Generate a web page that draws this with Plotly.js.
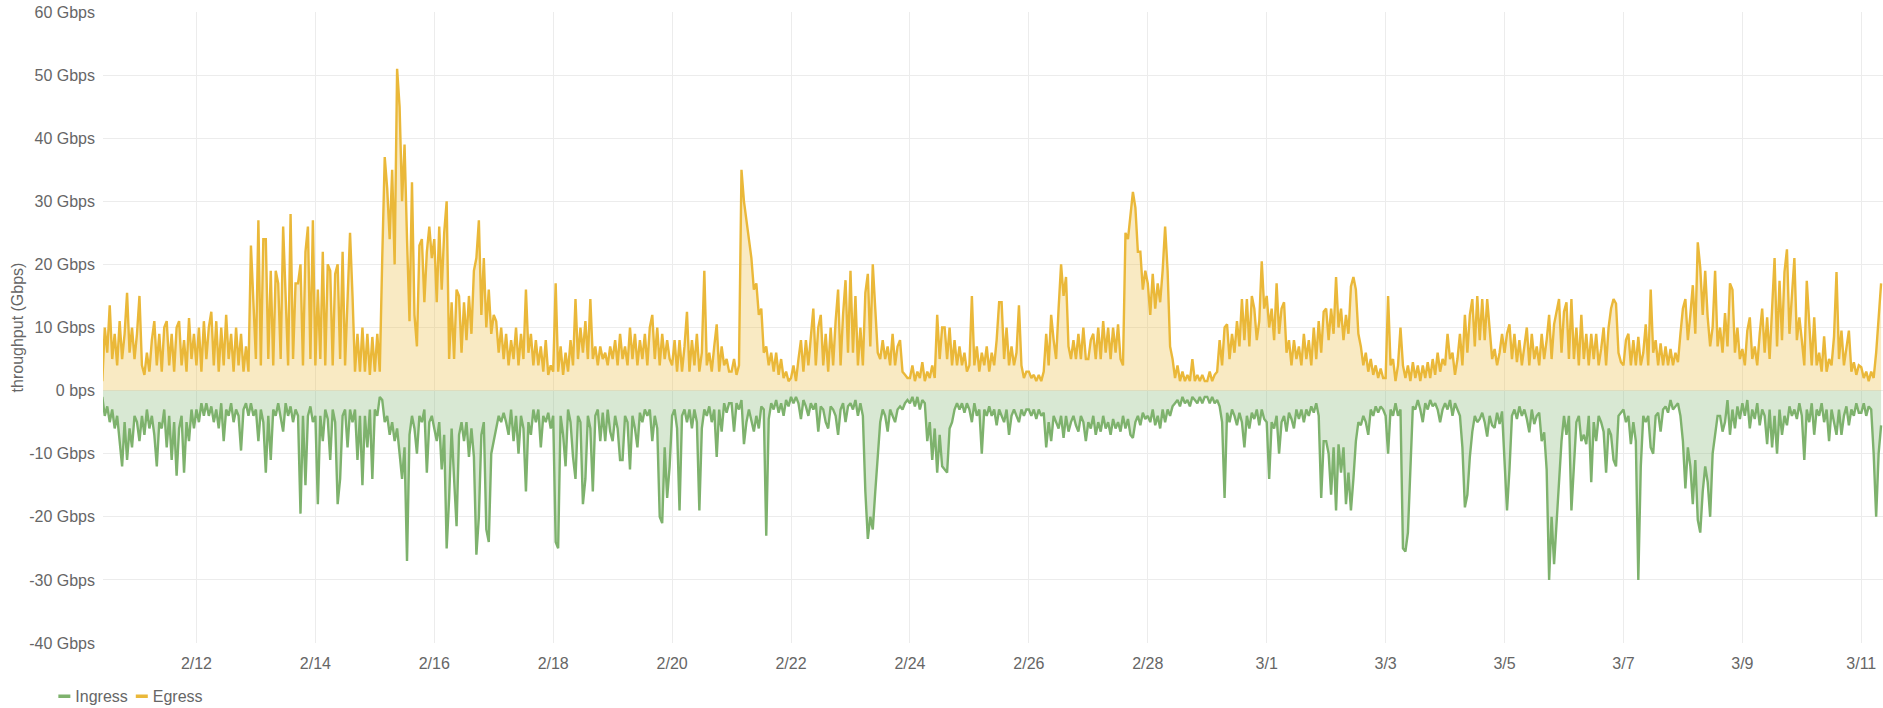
<!DOCTYPE html>
<html>
<head>
<meta charset="utf-8">
<script src="https://cdn.plot.ly/plotly-3.0.1.min.js"></script>
<style>
  html, body { margin: 0; padding: 0; background: #fff; }
  #chart { width: 1883px; height: 708px; }
</style>
</head>
<body>
<div id="chart"></div>
<script>
// Hourly samples starting 2016-02-10 10:00 (values in Gbps)
const startTime = Date.UTC(2016, 1, 10, 10, 0);
const stepHours = 1;

// ---------- Egress (positive) ----------
const egressWeek1 = [
  1.5, 10, 6, 13.5, 5, 9, 4, 11, 5, 9, 15.5, 6, 10, 5,                               // 2/10 10-23h
  9, 15, 4, 2.5, 6, 3, 8, 11, 4, 9, 3, 10, 11, 4, 9, 3, 10, 11, 4, 8, 3, 11.5, 5, 9, // 2/11
  4, 10, 3, 11, 5, 10, 12.5, 4, 11, 3, 10, 4, 12, 5, 9, 3, 10, 4, 9, 3, 7, 3, 23, 15, // 2/12
  5, 27, 4, 24, 24, 5, 19, 4, 19, 17, 5, 26, 15, 4, 28, 5, 17, 17, 20, 4, 22, 26, 5, 27, // 2/13
  4, 16, 5, 22, 4, 20, 19, 4, 18.5, 20, 5, 22, 4, 15, 25, 15, 3, 9, 3, 10, 3, 9, 2.5, 8.5, // 2/14
  3, 9, 3, 21, 37, 32, 24, 35, 20, 51, 45, 30, 39, 24, 11, 33, 12, 7, 23, 24, 14, 22, 26, 21, // 2/15
  24, 14, 26, 16, 25, 30, 5, 14, 5, 16, 15, 6, 14, 8, 15, 9, 19, 21, 27, 12, 21, 10, 16, 9   // 2/16
];
const egressWeek2 = [
  12, 11, 6, 10, 5, 9, 4, 8, 5, 10, 4, 9, 5, 16, 6, 9, 4, 8, 4, 7, 3, 8, 2.5, 4,     // 2/17
  3, 17, 3, 7, 2.5, 6, 3, 8, 4, 14.5, 5, 10, 6, 11, 5, 14.5, 5, 7, 4, 7, 5, 6, 4, 7,   // 2/18
  5, 8, 4, 9, 5, 7, 4, 10, 5, 9, 4, 8, 5, 9, 4, 10, 12, 5, 10, 4, 9, 5, 8, 5,          // 2/19
  4, 8, 3, 8, 3, 7, 12.5, 3, 8, 4, 9, 3, 6, 19, 4, 6, 3, 7, 10.5, 3, 7, 4, 5, 3,       // 2/20
  3, 5, 2.5, 4, 35, 30, 27, 24, 21, 16, 17, 12, 13, 6, 7, 4, 6, 3, 6, 2.5, 5, 2, 3, 1.5, // 2/21
  2, 4, 1.5, 5, 8, 3, 8, 4, 9, 13, 4, 10, 12, 4, 9, 3, 10, 4, 11, 16, 4, 12, 17.5, 6,  // 2/22
  19, 6, 15, 4, 10, 4, 15.5, 18.5, 7, 20, 13, 6, 5, 8, 5, 7, 4, 9, 4, 7, 8, 3, 2.5, 2  // 2/23
];
const egressWeek3 = [
  2, 4, 1.5, 3, 2, 4.5, 1.5, 3, 2, 4, 2, 12, 5, 10, 10, 5, 10, 4, 8, 4, 7, 4, 6, 3,    // 2/24
  4, 15, 4, 7, 3, 6, 4, 7, 3, 6, 4, 8, 14, 14, 5, 10, 4, 7, 4, 6, 13.5, 4, 2, 3,       // 2/25
  3, 2, 2.5, 1.5, 2.5, 1.5, 3, 9, 4, 12, 8, 5, 13, 20, 15, 18, 7, 5, 8, 5, 9, 5, 10, 5, // 2/26
  5, 8, 9, 5, 10, 5, 11, 6, 10, 5, 10, 6, 10.5, 5, 4, 25, 24, 28, 31.5, 29, 22, 22, 16, 19, // 2/27
  17, 12, 18.5, 13, 17, 14, 19, 26, 19, 7, 5, 2, 4, 1.5, 3, 1.5, 2.5, 1.5, 5, 1.5, 2.5, 1.5, 2.5, 1.5, // 2/28
  1.5, 3, 1.5, 2.5, 3, 8, 4, 10, 10.5, 5, 9, 6, 11, 7, 14.5, 8, 14.5, 7, 15, 13, 8, 11, 20.5, 13, // 2/29
  15, 10, 13, 8, 17, 9, 13, 14, 6, 8, 4, 8, 5, 7, 4, 9, 5, 8, 4, 10, 5, 11, 6, 12.5    // 3/1
];
const egressWeek4 = [
  13, 8, 13, 9, 18, 10, 13, 8, 12, 9, 16.5, 18, 16, 9, 7, 4, 6, 3, 5, 2.5, 4, 2, 3.5, 2, // 3/2
  2, 15, 4, 5, 1.5, 4, 10, 4, 2, 4, 1.5, 4.5, 2, 4, 1.5, 4, 2, 4.5, 2, 5, 2.5, 6, 3, 5, // 3/3
  4, 9, 5, 6, 2.5, 5, 9, 4, 12, 6, 12, 14.5, 7, 15, 8, 14.5, 8, 14.5, 9, 5, 6.6, 4, 6, 9, // 3/4
  6, 9, 10.5, 5, 9, 4.5, 8, 4, 7, 10, 4, 9, 5, 7, 4, 9, 5, 8, 12, 5, 10.5, 12.5, 14.5, 6, // 3/5
  12.5, 14, 5, 14.5, 5, 10, 4, 12, 5, 9, 4, 9, 5, 9, 4, 6.6, 10, 4, 10, 13, 14.5, 13.8, 6, 4.5, // 3/6
  4, 8, 9, 4, 8, 4, 8.5, 4, 6, 10.5, 4, 16, 6, 8, 4, 7.5, 4, 7, 4, 6.6, 4, 6, 4.5, 9,  // 3/7
  13, 14.5, 8, 12, 16.7, 9, 23.5, 19.5, 12, 19, 11.6, 7, 10, 19, 7, 10, 6, 12.3, 7, 17, 16, 6, 10, 5 // 3/8
];
const egressWeek5 = [
  6.6, 4, 9.5, 11.6, 5, 7, 4, 9, 13, 6, 11.6, 5, 14, 21, 7, 17.4, 8, 18.8, 22.4, 9, 15, 21, 8, 11.6, // 3/9
  8, 4, 17.4, 10, 4, 11.6, 4, 6, 3, 8.6, 3, 5, 4, 8.6, 18.8, 5, 9.5, 4, 7, 9.5, 3, 4.5, 2.5, 4, // 3/10
  3.7, 2, 3, 1.5, 3, 2, 6, 11.6, 17                                                     // 3/11 0-8h
];

// ---------- Ingress (drawn negative) ----------
const ingressWeek1 = [
  -1, -4, -2.5, -5, -3, -6, -4, -8, -12, -5, -11, -6, -9, -4,
  -5, -8, -4, -7, -3, -6, -4, -7, -12, -5, -6, -3, -9, -4, -11, -5, -13.5, -6, -4, -13, -5, -8, -3, -6,
  -3, -5, -2, -4, -2, -4, -2.5, -5, -3, -6, -2, -8, -3, -4, -2, -5, -3, -4, -9.5, -3, -2, -4, -2, -4,
  -3, -8, -3, -5, -13, -4, -11, -3, -4, -2, -4, -6.5, -2, -4, -2.5, -5, -3, -4, -19.5, -4, -15, -4, -2.5, -5,
  -4, -18, -4, -8, -3, -4.5, -11, -3, -5, -18, -14, -4, -3, -9, -3, -5, -3, -11, -4, -15, -4, -9, -3, -14,
  -3, -4, -1, -1.5, -5, -4, -7, -5, -8, -6, -10, -14, -9, -27, -7, -4, -6, -10, -4, -5, -3, -13, -5, -4,
  -6, -8, -5, -12.5, -7, -25, -17, -6, -14, -21.5, -7, -5, -8, -5, -10.5, -6, -10.5, -26, -20, -7, -5, -22, -24, -10
];
const ingressWeek2 = [
  -8, -6, -4, -5, -3.5, -5, -7, -3, -8, -4, -10, -4, -6, -16, -5, -7, -3, -5, -3, -9, -4, -5, -3.5, -6,
  -4, -24, -25, -4, -7, -12, -3, -5, -10.5, -14, -4, -5, -18, -14, -4, -6, -16, -4, -3, -8, -3.5, -8, -3, -6.5,
  -8, -4, -6, -11, -11, -4, -5, -12.5, -4, -6, -9, -3.5, -5, -3, -4, -3, -8, -4, -6, -20, -21, -9, -17, -12,
  -4, -3, -6, -19, -4, -3, -5, -3, -6, -3, -5, -19, -6, -3, -4, -2.5, -5, -3, -10.5, -3, -6.5, -2, -3.5, -2,
  -2, -6.5, -2, -3, -1.5, -8.5, -5, -3, -5, -6.5, -4, -6, -2.5, -3, -23, -4.5, -2, -3, -1.5, -3.5, -2, -4, -1.5, -2.5,
  -1, -2, -1, -2, -4.5, -1.5, -2.5, -4, -2, -3, -2, -6.5, -2.5, -3, -5, -6, -2.5, -3, -4, -7, -3, -2, -5, -2.5,
  -2, -3, -1.5, -4, -2, -4, -16, -23.5, -20, -22, -16, -11, -5, -3, -4, -6.5, -3, -4, -5, -3, -2.5, -3, -2, -1.5
];
const ingressWeek3 = [
  -2, -1, -2.5, -1, -3, -1.5, -2, -8, -5, -11, -6, -13, -7, -12, -12.5, -13, -6, -5, -3, -2, -3, -2, -3.5, -2,
  -3, -5, -2, -4, -3, -10, -3, -4, -2.5, -4, -3, -5.5, -3, -4, -5, -3, -7, -4, -3, -4, -5, -3, -4, -3,
  -3, -4, -3, -4.5, -3, -4, -3.5, -9, -5, -8, -4, -5, -6, -4, -7.5, -4, -6.5, -5, -4, -5.5, -6.5, -4, -5, -8,
  -5, -6, -4, -7, -5, -6.5, -4, -6, -5, -7, -4.5, -6, -5, -6.5, -4, -6, -4.5, -7, -7.5, -5, -4, -5.5, -3.5, -4.5,
  -4, -5, -3, -5.5, -4, -6, -3, -5, -3, -4, -2.5, -2, -1.5, -2.5, -1, -2, -1.5, -2.5, -1, -1.5, -2, -1, -2, -1,
  -1, -2, -1, -2, -1.5, -2.5, -5, -17, -3.5, -5, -3, -4, -5.5, -3.5, -5, -9, -4, -6, -3.5, -4.5, -3, -5.5, -3, -4.5,
  -5, -14, -5, -6, -4, -10, -5, -4, -6.5, -3.5, -4.5, -6, -3, -4.5, -3, -5, -3, -4, -2.5, -3.5, -2, -4, -17, -8
];
const ingressWeek4 = [
  -8, -10, -16.5, -9, -19, -8.5, -13, -9, -18, -13, -19, -14, -8, -5, -5.5, -4, -5, -7, -3, -4, -2.5, -3.5, -2.5, -3,
  -4, -10, -3, -4, -2, -4, -3, -25, -25.5, -22.5, -11, -2.5, -3, -1.5, -3, -5, -2, -3, -1.5, -2.5, -2, -3, -5, -3,
  -2, -3, -1.5, -4, -2, -3, -4, -9, -18.5, -16.5, -10.5, -6.5, -4, -5, -4.5, -3.5, -5, -7.3, -4, -5.5, -5.9, -3.5, -5.3, -3.3,
  -10.5, -19, -12.5, -4, -3, -4.5, -2.5, -4, -3, -4.5, -6.6, -3, -5.3, -4, -3.5, -8, -6.6, -12.5, -30, -20, -27.5, -20.5, -13, -8,
  -4, -7, -4, -19, -12, -5, -4, -8, -7, -8.5, -4, -14.5, -5, -8, -4, -5, -6.5, -13, -6, -7, -11, -12, -4, -3.5,
  -3, -5, -4, -8.5, -5, -8, -30, -12, -4, -5, -4, -9, -10, -4, -3.5, -6.5, -3, -2.5, -3.5, -1.5, -3, -2.5, -2, -4,
  -8, -15.5, -9, -12, -18, -11, -20.5, -22.5, -16, -12, -14.5, -20, -10, -7, -4, -4, -6.5, -5, -1.5, -7, -3, -6, -2.5, -4.5
];
const ingressWeek5 = [
  -2, -4, -1.5, -6, -3, -4.5, -2, -5.5, -3, -4, -8.5, -3, -9, -4, -10, -3, -7, -4, -5.5, -2.5, -4, -3, -4.5, -2,
  -4, -11, -3, -5, -2, -7, -3, -4, -2, -5, -3, -8, -3, -5, -7, -3, -7, -4, -2.5, -5.5, -3, -4, -2, -3.5,
  -3.5, -2, -4, -2.5, -3, -10, -20, -10, -5.5
];

const yTickValues = [60, 50, 40, 30, 20, 10, 0, -10, -20, -30, -40];
const yTickLabels = ['60 Gbps', '50 Gbps', '40 Gbps', '30 Gbps', '20 Gbps', '10 Gbps', '0 bps',
                     '-10 Gbps', '-20 Gbps', '-30 Gbps', '-40 Gbps'];

const egress = [].concat(egressWeek1, egressWeek2, egressWeek3, egressWeek4, egressWeek5);
const ingress = [].concat(ingressWeek1, ingressWeek2, ingressWeek3, ingressWeek4, ingressWeek5);

function stamp(i) {
  const d = new Date(startTime + i * stepHours * 3600000);
  return d.toISOString().slice(0, 19).replace('T', ' ');
}
const egressTimes = egress.map((_, i) => stamp(i));
const ingressTimes = ingress.map((_, i) => stamp(i));

const green = '#7EB26D';
const yellow = '#EAB839';
const legendDash = '0px,18px,12px,100px';

const traces = [
  {
    x: ingressTimes, y: ingress, type: 'scatter', mode: 'lines', name: 'Ingress',
    line: { color: green, width: 2.4 }, fill: 'tozeroy', fillcolor: 'rgba(126,178,109,0.3)',
    showlegend: false
  },
  {
    x: egressTimes, y: egress, type: 'scatter', mode: 'lines', name: 'Egress',
    line: { color: yellow, width: 2.4 }, fill: 'tozeroy', fillcolor: 'rgba(234,184,57,0.3)',
    showlegend: false
  },
  { x: [null], y: [null], type: 'scatter', mode: 'lines', name: 'Ingress',
    line: { color: green, width: 3.5, dash: legendDash }, showlegend: true, legend: 'legend' },
  { x: [null], y: [null], type: 'scatter', mode: 'lines', name: 'Egress',
    line: { color: yellow, width: 3.5, dash: legendDash }, showlegend: true, legend: 'legend2' }
];

const fontFam = '"Liberation Sans", Arial, Helvetica, sans-serif';
const legendCommon = {
  orientation: 'h', xanchor: 'left', y: -0.0575, yanchor: 'top',
  font: { size: 16, color: '#666666', family: fontFam }, bgcolor: 'rgba(0,0,0,0)',
  borderwidth: 0, itemwidth: 30
};
const layout = {
  width: 1883, height: 708,
  margin: { l: 103, r: 0, t: 12, b: 65, autoexpand: false },
  paper_bgcolor: '#ffffff', plot_bgcolor: '#ffffff',
  font: { family: fontFam, size: 16, color: '#666666' },
  xaxis: {
    type: 'date',
    range: ['2016-02-10 10:17', '2016-03-11 08:46'],
    tick0: '2016-02-12', dtick: 172800000,
    tickformat: '%-m/%-d',
    showgrid: true, gridcolor: '#ececec', gridwidth: 1,
    zeroline: false, showline: false, ticks: '',
    ticklabelstandoff: 9, automargin: false,
    tickfont: { size: 16, color: '#666666' }
  },
  yaxis: {
    range: [-40, 60],
    tickvals: yTickValues, ticktext: yTickLabels,
    showgrid: true, gridcolor: '#ececec', gridwidth: 1,
    zeroline: false, showline: false, ticks: '',
    ticklabelstandoff: 7,
    tickfont: { size: 16, color: '#666666' },
    title: { text: 'throughput (Gbps)', font: { size: 16, color: '#666666' }, standoff: 1 },
    automargin: false
  },
  showlegend: true,
  legend: Object.assign({}, legendCommon, { x: -0.038 }),
  legend2: Object.assign({}, legendCommon, { x: 0.0055 }),
  hovermode: false
};

Plotly.newPlot('chart', traces, layout, { displayModeBar: false, staticPlot: true });
</script>
</body>
</html>
